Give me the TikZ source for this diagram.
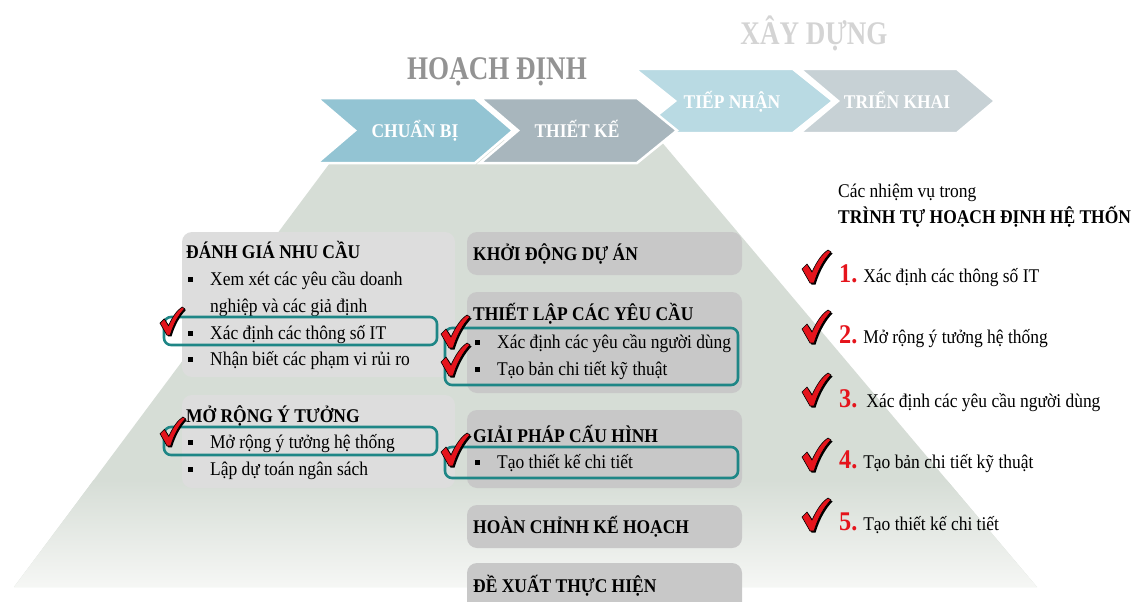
\documentclass[tikz,border=0pt]{standalone}
\usepackage{fontspec}
\setmainfont{Liberation Serif}[FakeStretch=0.9]
\newfontfamily\phasefamily{Liberation Serif}[FakeStretch=0.82]
\usetikzlibrary{calc}

\definecolor{trapgreen}{HTML}{D6DDD6}
\definecolor{trapfade}{HTML}{F6F7F5}
\definecolor{chevA}{HTML}{93C4D3}
\definecolor{chevB}{HTML}{A8B6BD}
\definecolor{chevC}{HTML}{B9DAE3}
\definecolor{chevD}{HTML}{C7D1D5}
\definecolor{boxlight}{HTML}{DDDDDD}
\definecolor{boxdark}{HTML}{C8C8C8}
\definecolor{tealline}{HTML}{1E8686}
\definecolor{headgray}{HTML}{939393}
\definecolor{headlight}{HTML}{D4D4D4}
\definecolor{checkred}{HTML}{E5141C}

\newcommand\bodyfont{\fontsize{19.4}{23}\selectfont}
\newcommand\numfont{\fontsize{27}{30}\selectfont\bfseries}
% square bullet hanging left of the item text
\newcommand\sqb{\makebox[0pt][r]{\rule[3.5pt]{5pt}{5pt}\hspace{17pt}}}
\newcommand\checkpath{(0,19) -- (5,14) -- (10,22) .. controls (15,11) and (20,4) .. (26,0) -- (29,2) .. controls (22,9) and (16,20) .. (12,33) -- (8,33) -- cycle}

\tikzset{
  title/.style={anchor=base west, inner sep=0pt, font=\bodyfont\bfseries},
  item/.style={anchor=base west, inner sep=0pt, font=\bodyfont},
  tabtext/.style={anchor=base, inner sep=0pt, text=white, font=\bodyfont\bfseries},
  phase/.style={anchor=base, inner sep=0pt, font=\phasefamily\fontsize{33}{38}\selectfont\bfseries},
  tab/.style={draw=white, line width=2.5pt, line join=miter},
  hilite/.style={draw=tealline, line width=2.6pt, rounded corners=7pt},
  redcheck/.pic={
    \fill[black, shift={(1.5,1.5)}] \checkpath;
    \filldraw[fill=checkred, draw=black, line width=0.6pt] \checkpath;
  }
}

\begin{document}
\begin{tikzpicture}[x=1pt, y=-1pt]
\useasboundingbox (0,0) rectangle (1135,602);
\begin{scope}
\clip (0,0) rectangle (1135,602);

% Pyramid in the background, fading out at the bottom
\fill[trapgreen] (347,140) -- (660,140) -- (1037,587) -- (14,587) -- cycle;
\begin{scope}
\clip (347,140) -- (660,140) -- (1037,587) -- (14,587) -- cycle;
\shade[top color=trapgreen, bottom color=trapfade] (0,480) rectangle (1135,588);
\end{scope}

% Phase tabs
\filldraw[tab, fill=chevC] (635,69) -- (793,69) -- (833,101) -- (793,133) -- (635,133) -- (675,101) -- cycle;
\filldraw[tab, fill=chevD] (800,69) -- (957,69) -- (995,101) -- (957,133) -- (800,133) -- (838,101) -- cycle;
\filldraw[tab, fill=chevA] (317,98) -- (475,98) -- (513,130.5) -- (475,163) -- (317,163) -- (355,130.5) -- cycle;
\filldraw[tab, fill=chevB] (480,98) -- (637,98) -- (677,130.5) -- (637,163) -- (480,163) -- (518,130.5) -- cycle;

\node[tabtext] (chuanbi) at (415,137) {CHUẨN BỊ};
\node[tabtext] (thietke) at (577,137) {THIẾT KẾ};
\node[tabtext] (tiepnhan) at (732,108) {TIẾP NHẬN};
\node[tabtext] (trienkhai) at (897,108) {TRIỂN KHAI};

% Phase headings
\node[phase, text=headgray] (hoachdinh) at (497,79) {HOẠCH ĐỊNH};
\node[phase, text=headlight] (xaydung) at (814,45) {XÂY DỰNG};

% Left column boxes
\fill[boxlight, rounded corners=10pt] (182,232) rectangle (455,377);
\fill[boxlight, rounded corners=10pt] (182,395) rectangle (455,488);

\node[title] (danhgia) at (186,258) {ĐÁNH GIÁ NHU CẦU};
\node[item] (dg1) at (210,285) {\sqb Xem xét các yêu cầu doanh};
\node[item] (dg1b) at (210,312) {nghiệp và các giả định};
\node[item] (dg2) at (210,339) {\sqb Xác định các thông số IT};
\node[item] (dg3) at (210,365) {\sqb Nhận biết các phạm vi rủi ro};

\node[title] (morong) at (186,422) {MỞ RỘNG Ý TƯỞNG};
\node[item] (mr1) at (210,448) {\sqb Mở rộng ý tưởng hệ thống};
\node[item] (mr2) at (210,475) {\sqb Lập dự toán ngân sách};

% Right column boxes
\fill[boxdark, rounded corners=10pt] (467,232) rectangle (742,275);
\fill[boxdark, rounded corners=10pt] (467,292) rectangle (742,393);
\fill[boxdark, rounded corners=10pt] (467,410) rectangle (742,488);
\fill[boxdark, rounded corners=10pt] (467,505) rectangle (742,548);
\fill[boxdark, rounded corners=10pt] (467,563) rectangle (742,620);

\node[title] (khoidong) at (473,260) {KHỞI ĐỘNG DỰ ÁN};
\node[title] (thietlap) at (473,320) {THIẾT LẬP CÁC YÊU CẦU};
\node[item] (tl1) at (497,348) {\sqb Xác định các yêu cầu người dùng};
\node[item] (tl2) at (497,375) {\sqb Tạo bản chi tiết kỹ thuật};
\node[title] (giaiphap) at (473,442) {GIẢI PHÁP CẤU HÌNH};
\node[item] (gp1) at (497,468) {\sqb Tạo thiết kế chi tiết};
\node[title] (hoanchinh) at (473,533) {HOÀN CHỈNH KẾ HOẠCH};
\node[title] (dexuat) at (473,592) {ĐỀ XUẤT THỰC HIỆN};

% Highlighted tasks
\draw[hilite] (164,317) rectangle (437,345);
\draw[hilite] (164,427) rectangle (437,455);
\draw[hilite] (445,328) rectangle (738,385);
\draw[hilite] (445,447) rectangle (738,478);

\pic[scale=0.85] (chkA) at (160,307) {redcheck};
\pic[scale=0.88] (chkB) at (160,417) {redcheck};
\pic (chkC) at (441,315) {redcheck};
\pic (chkD) at (441,343) {redcheck};
\pic (chkE) at (441,433) {redcheck};

% Task list on the right
\node[item] (nhiemvu) at (838,197) {Các nhiệm vụ trong};
\node[title] (trinhtu) at (838,223) {TRÌNH TỰ HOẠCH ĐỊNH HỆ THỐN};

\node[item] (task1) at (839,282) {\textcolor{checkred}{\numfont 1.} Xác định các thông số IT};
\node[item] (task2) at (839,343) {\textcolor{checkred}{\numfont 2.} Mở rộng ý tưởng hệ thống};
\node[item] (task3) at (839,407) {\textcolor{checkred}{\numfont 3.}\, Xác định các yêu cầu người dùng};
\node[item] (task4) at (839,468) {\textcolor{checkred}{\numfont 4.} Tạo bản chi tiết kỹ thuật};
\node[item] (task5) at (839,530) {\textcolor{checkred}{\numfont 5.} Tạo thiết kế chi tiết};

\pic (chk1) at (802,250) {redcheck};
\pic (chk2) at (802,310) {redcheck};
\pic (chk3) at (802,373) {redcheck};
\pic (chk4) at (802,438) {redcheck};
\pic (chk5) at (802,498) {redcheck};
\end{scope}
\end{tikzpicture}
\end{document}
